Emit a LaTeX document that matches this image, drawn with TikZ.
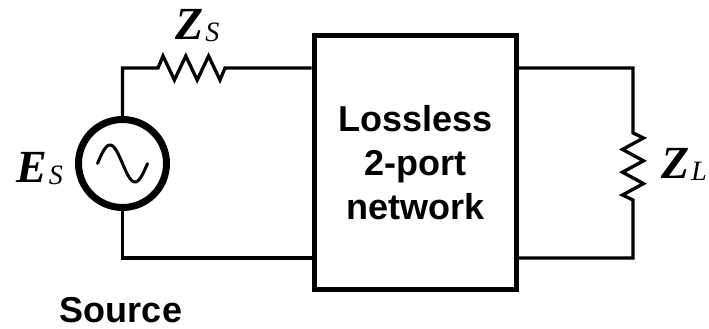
\documentclass[tikz,border=0pt]{standalone}
\usepackage{fontspec}
\setsansfont{Liberation Sans}
\newfontfamily\timesfont{Liberation Serif}
\newcommand{\implabel}[2]{\textbf{\textit{#1}}\kern2pt\raisebox{-2pt}{\fontsize{28}{28}\selectfont\textit{#2}}}
\begin{document}
\begin{tikzpicture}[x=1pt,y=-1pt,
  wire/.style={line width=3.3pt},
  lbl/.style={font=\timesfont\fontsize{46}{46}\selectfont, inner sep=0pt},
  bigtext/.style={font=\sffamily\bfseries\fontsize{36}{44}\selectfont, inner sep=0pt}]
\useasboundingbox (0,0) rectangle (709,329);
\node[draw, circle, line width=7pt, minimum size=88pt, inner sep=0pt] (src) at (122.5,163.5) {};
\node[draw, line width=5pt, minimum width=202.5pt, minimum height=253.5pt, bigtext, align=center] (net) at (415.25,162.75) {Lossless\\2-port\\network};
\coordinate (zsA) at (158,68);
\coordinate (zsB) at (225,68);
\coordinate (zlA) at (633,133);
\coordinate (zlB) at (633,200);
\coordinate (botY) at (0,258);
% source side
\draw[wire] (src.north) |- (zsA) -- ++(5,-12) -- ++(11.4,24) -- ++(11.4,-24) -- ++(11.4,24)
  -- ++(11.4,-24) -- ++(11.4,24) -- (zsB) -- (zsB -| net.west);
\draw[wire] (src.south) |- (net.west |- botY);
% load side
\draw[wire] (net.east |- zsB) -| (zlA) -- ++(10.5,5) -- ++(-21,11.4) -- ++(21,11.4) -- ++(-21,11.4)
  -- ++(21,11.4) -- ++(-21,11.4) -- (zlB) |- (net.east |- botY);
\begin{scope}[shift={(src.center)}]
\draw[line width=3pt, line cap=round, domain=0:50, samples=50] plot ({\x-25}, {-18.5*sin(7.2*\x)});
\end{scope}
\node[lbl, anchor=base west] (es) at (16,182) {\implabel{E}{S}};
\node[lbl, anchor=base west] (zs) at (175,40) {\implabel{Z}{S}};
\node[lbl, anchor=base west] (zl) at (661,178) {\implabel{Z}{L}};
\node[bigtext, anchor=base] (srclbl) at (121,322) {Source};
\end{tikzpicture}
\end{document}
